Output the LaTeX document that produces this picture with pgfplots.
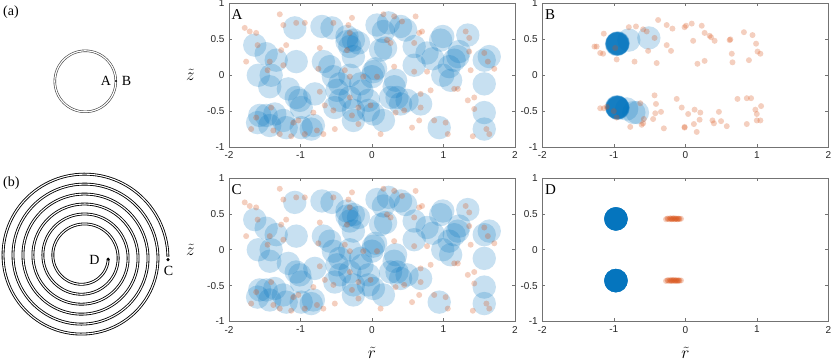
\documentclass[border=0pt]{standalone}
\usepackage{fontspec}
\setmainfont{Liberation Serif}
\setsansfont{Liberation Sans}
\usepackage{pgfplots}
\usepackage{pgfplotstable}
\pgfplotsset{compat=1.18}
\definecolor{mblue}{RGB}{0,114,189}
\definecolor{morange}{RGB}{217,83,25}

\pgfplotstableread{
x y
-1.08 0.66
-0.70 0.68
-0.56 0.66
0.07 0.70
0.16 0.61
0.23 0.73
0.40 0.68
0.47 0.63
0.99 0.54
0.96 0.49
1.34 0.56
-1.64 0.42
-1.48 0.30
-1.34 0.21
-1.06 0.19
-0.35 0.47
-0.26 0.49
-0.31 0.40
-0.19 0.45
-0.26 0.26
-0.35 0.54
0.19 0.38
0.12 0.35
0.59 0.40
0.77 0.31
0.85 0.23
1.15 0.21
1.20 0.26
1.08 0.12
1.57 0.21
1.64 0.26
1.22 0.33
-1.59 0.00
-1.41 0.00
-1.43 -0.16
-0.68 0.19
-0.59 0.12
-0.54 -0.02
-0.45 -0.12
-0.49 -0.21
-0.31 0.00
-0.16 -0.12
0.02 0.05
0.00 -0.02
0.05 0.09
0.33 -0.07
0.59 0.14
0.99 0.00
1.10 -0.07
1.57 -0.12
0.31 -0.16
-0.14 -0.22
-1.17 -0.19
-1.06 -0.31
-1.01 -0.35
-0.99 -0.45
-0.80 -0.26
-0.52 -0.45
-0.45 -0.35
-0.26 -0.49
-0.31 -0.31
-0.05 -0.49
0.02 -0.54
-0.05 -0.35
0.26 -0.31
0.35 -0.31
0.40 -0.40
0.49 -0.35
0.68 -0.40
1.57 -0.52
-1.57 -0.56
-1.60 -0.66
-1.48 -0.56
-1.36 -0.54
-1.43 -0.70
-1.24 -0.63
-1.20 -0.73
-0.99 -0.73
-0.82 -0.70
-0.85 -0.75
-0.26 -0.63
0.16 -0.63
0.94 -0.73
1.57 -0.75
}\blueA

\pgfplotstableread{
x y
-1.78 0.66
-1.71 0.61
-1.62 0.59
-1.76 0.19
-1.60 0.42
-1.29 0.85
-1.24 0.70
-1.20 0.42
-1.27 0.35
-1.46 0.07
-1.43 0.19
-1.24 0.14
-1.06 0.73
-0.94 0.73
-0.73 0.38
-0.75 0.09
-0.73 -0.23
-0.66 -0.42
-0.54 -0.49
-0.54 0.73
-0.33 0.70
-0.28 0.80
-0.31 0.59
-0.35 0.35
-0.38 0.07
-0.31 -0.02
-0.31 -0.31
-0.28 -0.56
-0.19 -0.45
-0.19 -0.68
-0.02 -0.42
0.07 -0.02
0.12 -0.82
0.16 0.85
0.31 0.82
0.42 0.75
0.61 0.82
0.31 0.12
0.26 0.45
0.66 0.59
0.70 0.61
0.59 0.45
0.59 0.05
0.68 -0.26
0.68 -0.45
0.66 -0.63
0.56 -0.73
0.33 -0.52
0.45 -0.49
0.77 0.05
0.82 -0.21
0.87 -0.63
1.03 -0.66
1.06 -0.82
1.15 -0.19
1.20 -0.19
1.31 0.61
1.36 0.52
1.36 0.33
1.38 0.07
1.34 -0.35
1.43 -0.31
1.43 -0.47
1.41 -0.85
1.57 0.31
1.62 0.19
1.71 0.09
1.60 -0.75
1.64 -0.82
-1.03 -0.63
-1.13 -0.85
-1.29 -0.82
-1.38 -0.77
-1.69 -0.75
-1.62 -0.59
-1.41 -0.45
-1.10 -0.66
-0.82 -0.52
-0.68 -0.82
-0.94 -0.82
-0.77 -0.77
-0.52 -0.75
-0.12 -0.02
0.21 0.49
}\orangeA

\pgfplotstableread{
x y
-0.95 0.44
-0.95 0.44
-0.94 0.45
-0.95 0.43
-0.96 0.44
-0.95 0.45
-0.94 0.44
-0.95 0.44
-0.96 0.43
-0.95 0.44
-0.79 0.49
-0.51 0.52
-0.95 -0.45
-0.95 -0.45
-0.94 -0.46
-0.95 -0.44
-0.96 -0.45
-0.95 -0.46
-0.94 -0.45
-0.95 -0.45
-0.96 -0.44
-0.95 -0.45
-0.82 -0.47
-0.72 -0.52
-0.67 -0.52
}\blueB

\pgfplotstableread{
x y
-1.27 0.40
-1.24 0.40
-1.19 0.31
-1.15 0.30
-1.14 0.58
-0.98 0.38
-0.96 0.22
-0.79 0.67
-0.69 0.68
-0.59 0.64
-0.54 0.61
-0.71 0.19
-0.52 0.34
-0.43 0.52
-0.40 0.17
-0.38 0.77
-0.26 0.70
-0.18 0.65
-0.26 0.42
-0.20 0.34
-0.01 0.67
0.01 0.69
0.09 0.72
0.11 0.48
0.23 0.69
0.27 0.59
0.34 0.55
0.36 0.53
0.41 0.48
0.17 0.16
0.27 0.20
0.62 0.49
0.63 0.50
0.65 0.30
0.66 0.18
0.82 0.60
0.94 0.56
0.99 0.44
1.01 0.33
1.05 0.30
0.89 0.21
-1.19 -0.46
-1.14 -0.46
-1.10 -0.44
-1.00 -0.50
-0.96 -0.59
-0.77 -0.72
-0.63 -0.39
-0.59 -0.67
-0.61 -0.69
-0.58 -0.61
-0.43 -0.28
-0.41 -0.40
-0.42 -0.53
-0.34 -0.51
-0.45 -0.61
-0.30 -0.74
-0.12 -0.33
-0.05 -0.45
0.04 -0.54
-0.01 -0.72
-0.01 -0.73
0.13 -0.48
0.12 -0.68
0.16 -0.79
0.21 -0.52
0.20 -0.62
0.38 -0.63
0.40 -0.67
0.47 -0.51
0.50 -0.64
0.58 -0.71
0.73 -0.33
0.86 -0.32
0.92 -0.32
0.86 -0.68
0.98 -0.48
1.00 -0.54
1.06 -0.43
1.05 -0.63
1.00 -0.63
}\orangeB

\pgfplotstableread{
x y
-0.97 0.43
-0.97 0.43
-0.97 0.43
-0.97 0.43
-0.97 0.43
-0.97 0.43
-0.97 0.43
-0.97 0.43
-0.97 0.43
-0.97 0.43
-0.97 0.43
-0.97 0.43
-0.97 0.43
-0.97 0.43
-0.97 0.43
-0.97 -0.43
-0.97 -0.43
-0.97 -0.43
-0.97 -0.43
-0.97 -0.43
-0.97 -0.43
-0.97 -0.43
-0.97 -0.43
-0.97 -0.43
-0.97 -0.43
-0.97 -0.43
-0.97 -0.43
-0.97 -0.43
-0.97 -0.43
-0.97 -0.43
}\blueD

\pgfplotstableread{
x y
-0.27 0.425
-0.25 0.435
-0.24 0.430
-0.22 0.425
-0.21 0.440
-0.20 0.430
-0.19 0.425
-0.18 0.435
-0.17 0.430
-0.16 0.440
-0.15 0.425
-0.14 0.430
-0.13 0.435
-0.12 0.430
-0.11 0.425
-0.10 0.435
-0.09 0.430
-0.08 0.430
-0.06 0.432
-0.27 -0.435
-0.25 -0.425
-0.24 -0.430
-0.22 -0.435
-0.21 -0.420
-0.20 -0.430
-0.19 -0.435
-0.18 -0.425
-0.17 -0.430
-0.16 -0.420
-0.15 -0.435
-0.14 -0.430
-0.13 -0.425
-0.12 -0.430
-0.11 -0.435
-0.10 -0.425
-0.09 -0.430
-0.08 -0.430
-0.06 -0.428
}\orangeD

\pgfplotsset{
  panel/.style={
    scale only axis, width=286pt, height=143.5pt,
    xmin=-2, xmax=2, ymin=-1, ymax=1,
    xtick={-2,-1,0,1,2}, xticklabels={-2,-1,0,1,2},
    ytick={-1,-0.5,0,0.5,1}, yticklabels={-1,-0.5,0,0.5,1},
    tick align=inside, major tick length=3pt,
    axis line style={black!55, line width=0.5pt},
    tick style={black!55, line width=0.5pt},
    ticklabel style={font=\sffamily\fontsize{10}{12}\selectfont, text=black!85},
    xticklabel style={yshift=-1pt},
    yticklabel style={xshift=-1pt},
    clip=false,
  },
  bigdot/.style={only marks, mark=*, mark size=11.7pt, color=mblue,
    mark options={draw=mblue, draw opacity=0, line width=0pt, fill=mblue, fill opacity=0.22}},
  smalldot/.style={only marks, mark=*, mark size=3pt, color=morange,
    mark options={draw=morange, draw opacity=0, line width=0pt, fill=morange, fill opacity=0.28}},
  zlab/.style={ylabel={$\tilde{z}$}, ylabel style={at={(axis description cs:-0.135,0.5)}, rotate=-90, anchor=center, font=\fontsize{19}{19}\selectfont}},
  rlab/.style={xlabel={$\tilde{r}$}, xlabel style={at={(axis description cs:0.5,-0.215)}, anchor=center, font=\fontsize{19}{19}\selectfont}},
}
\newcommand{\panellabel}[1]{\node[anchor=north west, inner sep=0pt, font=\fontsize{15}{15}\selectfont, xshift=2.5pt, yshift=-6pt] at (rel axis cs:0,1) {#1};}

\begin{document}
\begin{tikzpicture}
\path[use as bounding box] (0pt,0pt) rectangle (831pt,-363pt);

% schematic (a)
\begin{scope}[x=1pt,y=1pt]
\node[anchor=west, inner sep=0pt, font=\fontsize{14}{14}\selectfont] at (3,-12) {(a)};
\draw[black!75, line width=0.6pt, double=white, double distance=1.2pt] (85.3,-81.3) circle (30.5);
\fill (116,-81) circle (1.1);
\node[font=\fontsize{14}{14}\selectfont, inner sep=0pt] at (106,-80.5) {A};
\node[font=\fontsize{14}{14}\selectfont, inner sep=0pt] at (126.5,-80.5) {B};

% schematic (b)
\node[anchor=west, inner sep=0pt, font=\fontsize{14}{14}\selectfont] at (3,-183) {(b)};
\draw[black, line width=0.85pt, double=white, double distance=1.1pt]
  plot[domain=0:5.989, samples=700, variable=\t]
  ({83 + (25.3 + 9.968*\t)*cos(-6 - 360*\t)}, {-256.6 + (25.3 + 9.968*\t)*sin(-6 - 360*\t)});
\fill (83+25.2,-259.2) circle (1.7);
\fill (83+85,-259.6) circle (1.7);
\node[font=\fontsize{14}{14}\selectfont, inner sep=0pt] at (94.5,-259.5) {D};
\node[font=\fontsize{14}{14}\selectfont, inner sep=0pt] at (168.5,-271) {C};
\end{scope}

% A
\begin{axis}[panel, zlab, at={(229pt,-147pt)}, anchor=south west]
\addplot[bigdot] table {\blueA};
\addplot[smalldot] table {\orangeA};
\panellabel{A}
\end{axis}

% B
\begin{axis}[panel, at={(542.3pt,-147pt)}, anchor=south west]
\addplot[bigdot] table {\blueB};
\addplot[smalldot] table {\orangeB};
\panellabel{B}
\end{axis}

% C
\begin{axis}[panel, zlab, rlab, at={(229pt,-321.5pt)}, anchor=south west]
\addplot[bigdot] table {\blueA};
\addplot[smalldot] table {\orangeA};
\panellabel{C}
\end{axis}

% D
\begin{axis}[panel, rlab, at={(542.3pt,-321.5pt)}, anchor=south west]
\addplot[bigdot] table {\blueD};
\addplot[smalldot] table {\orangeD};
\panellabel{D}
\end{axis}
\end{tikzpicture}
\end{document}
